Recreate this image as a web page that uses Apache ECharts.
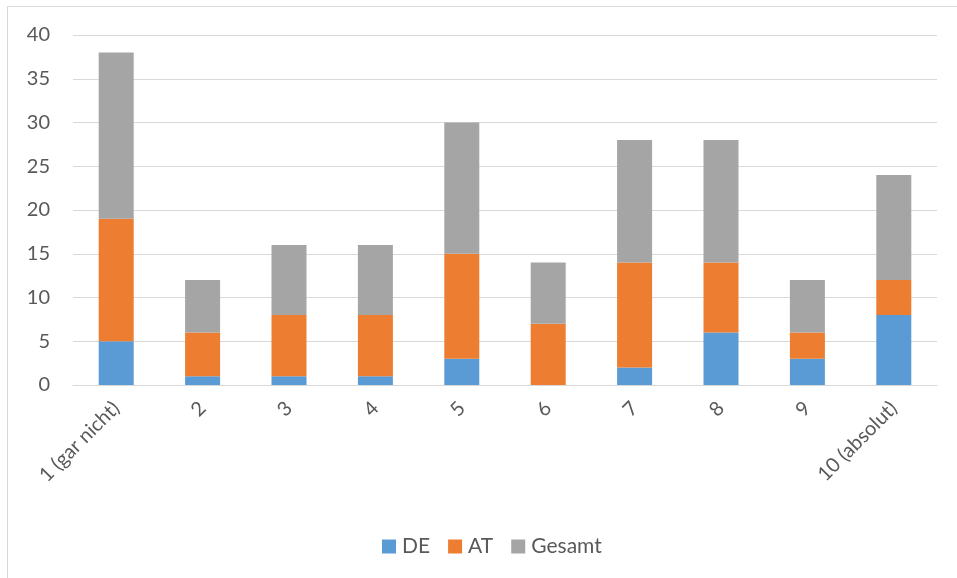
<!DOCTYPE html>
<html><head><meta charset="utf-8">
<script src="https://cdn.jsdelivr.net/npm/echarts@6/dist/echarts.min.js"></script>
<style>html,body{margin:0;padding:0;background:#fff}#c{width:957px;height:578px}</style>
</head><body><div id="c"></div>
<script>
const categories = ['1 (gar nicht)','2','3','4','5','6','7','8','9','10 (absolut)'];
const de = [5,1,1,1,3,0,2,6,3,8];
const at = [14,5,7,7,12,7,12,8,3,4];
const gesamt = [19,6,8,8,15,7,14,14,6,12];
const seriesNames = ['DE','AT','Gesamt'];
const colors = ['#5B9BD5','#ED7D31','#A5A5A5'];
const font = 'Lato, "Open Sans", sans-serif';
const chart = echarts.init(document.getElementById('c'));
const mk = (name, data, color) => ({
  name, type:'bar', stack:'s', data, barWidth:35,
  itemStyle:{color}, emphasis:{disabled:true}
});
chart.setOption({
  animation:false,
  textStyle:{fontFamily:font},
  graphic:[
    {type:'line', shape:{x1:7,y1:6.5,x2:957,y2:6.5}, style:{stroke:'#d9d9d9',lineWidth:1}},
    {type:'line', shape:{x1:7.5,y1:6,x2:7.5,y2:578}, style:{stroke:'#d9d9d9',lineWidth:1}}
  ],
  grid:{left:73,right:20,top:35,bottom:193,containLabel:false},
  legend:{top:531,left:377,itemWidth:14,itemHeight:14,itemGap:18,icon:'rect',
    textStyle:{fontSize:21,color:'#595959',fontFamily:font,padding:[0,0,0,1]},data:seriesNames},
  xAxis:{type:'category',data:categories,
    axisLine:{lineStyle:{color:'#d9d9d9',width:1}},axisTick:{show:false},
    axisLabel:{rotate:45,fontSize:20,color:'#595959',margin:20,interval:0,fontFamily:font}},
  yAxis:{type:'value',min:0,max:40,interval:5,
    axisLine:{show:false},axisTick:{show:false},
    splitLine:{lineStyle:{color:'#d9d9d9',width:1}},
    axisLabel:{fontSize:20,color:'#595959',margin:23,fontFamily:font}},
  series:[mk(seriesNames[0],de,colors[0]),mk(seriesNames[1],at,colors[1]),mk(seriesNames[2],gesamt,colors[2])]
});
</script></body></html>
